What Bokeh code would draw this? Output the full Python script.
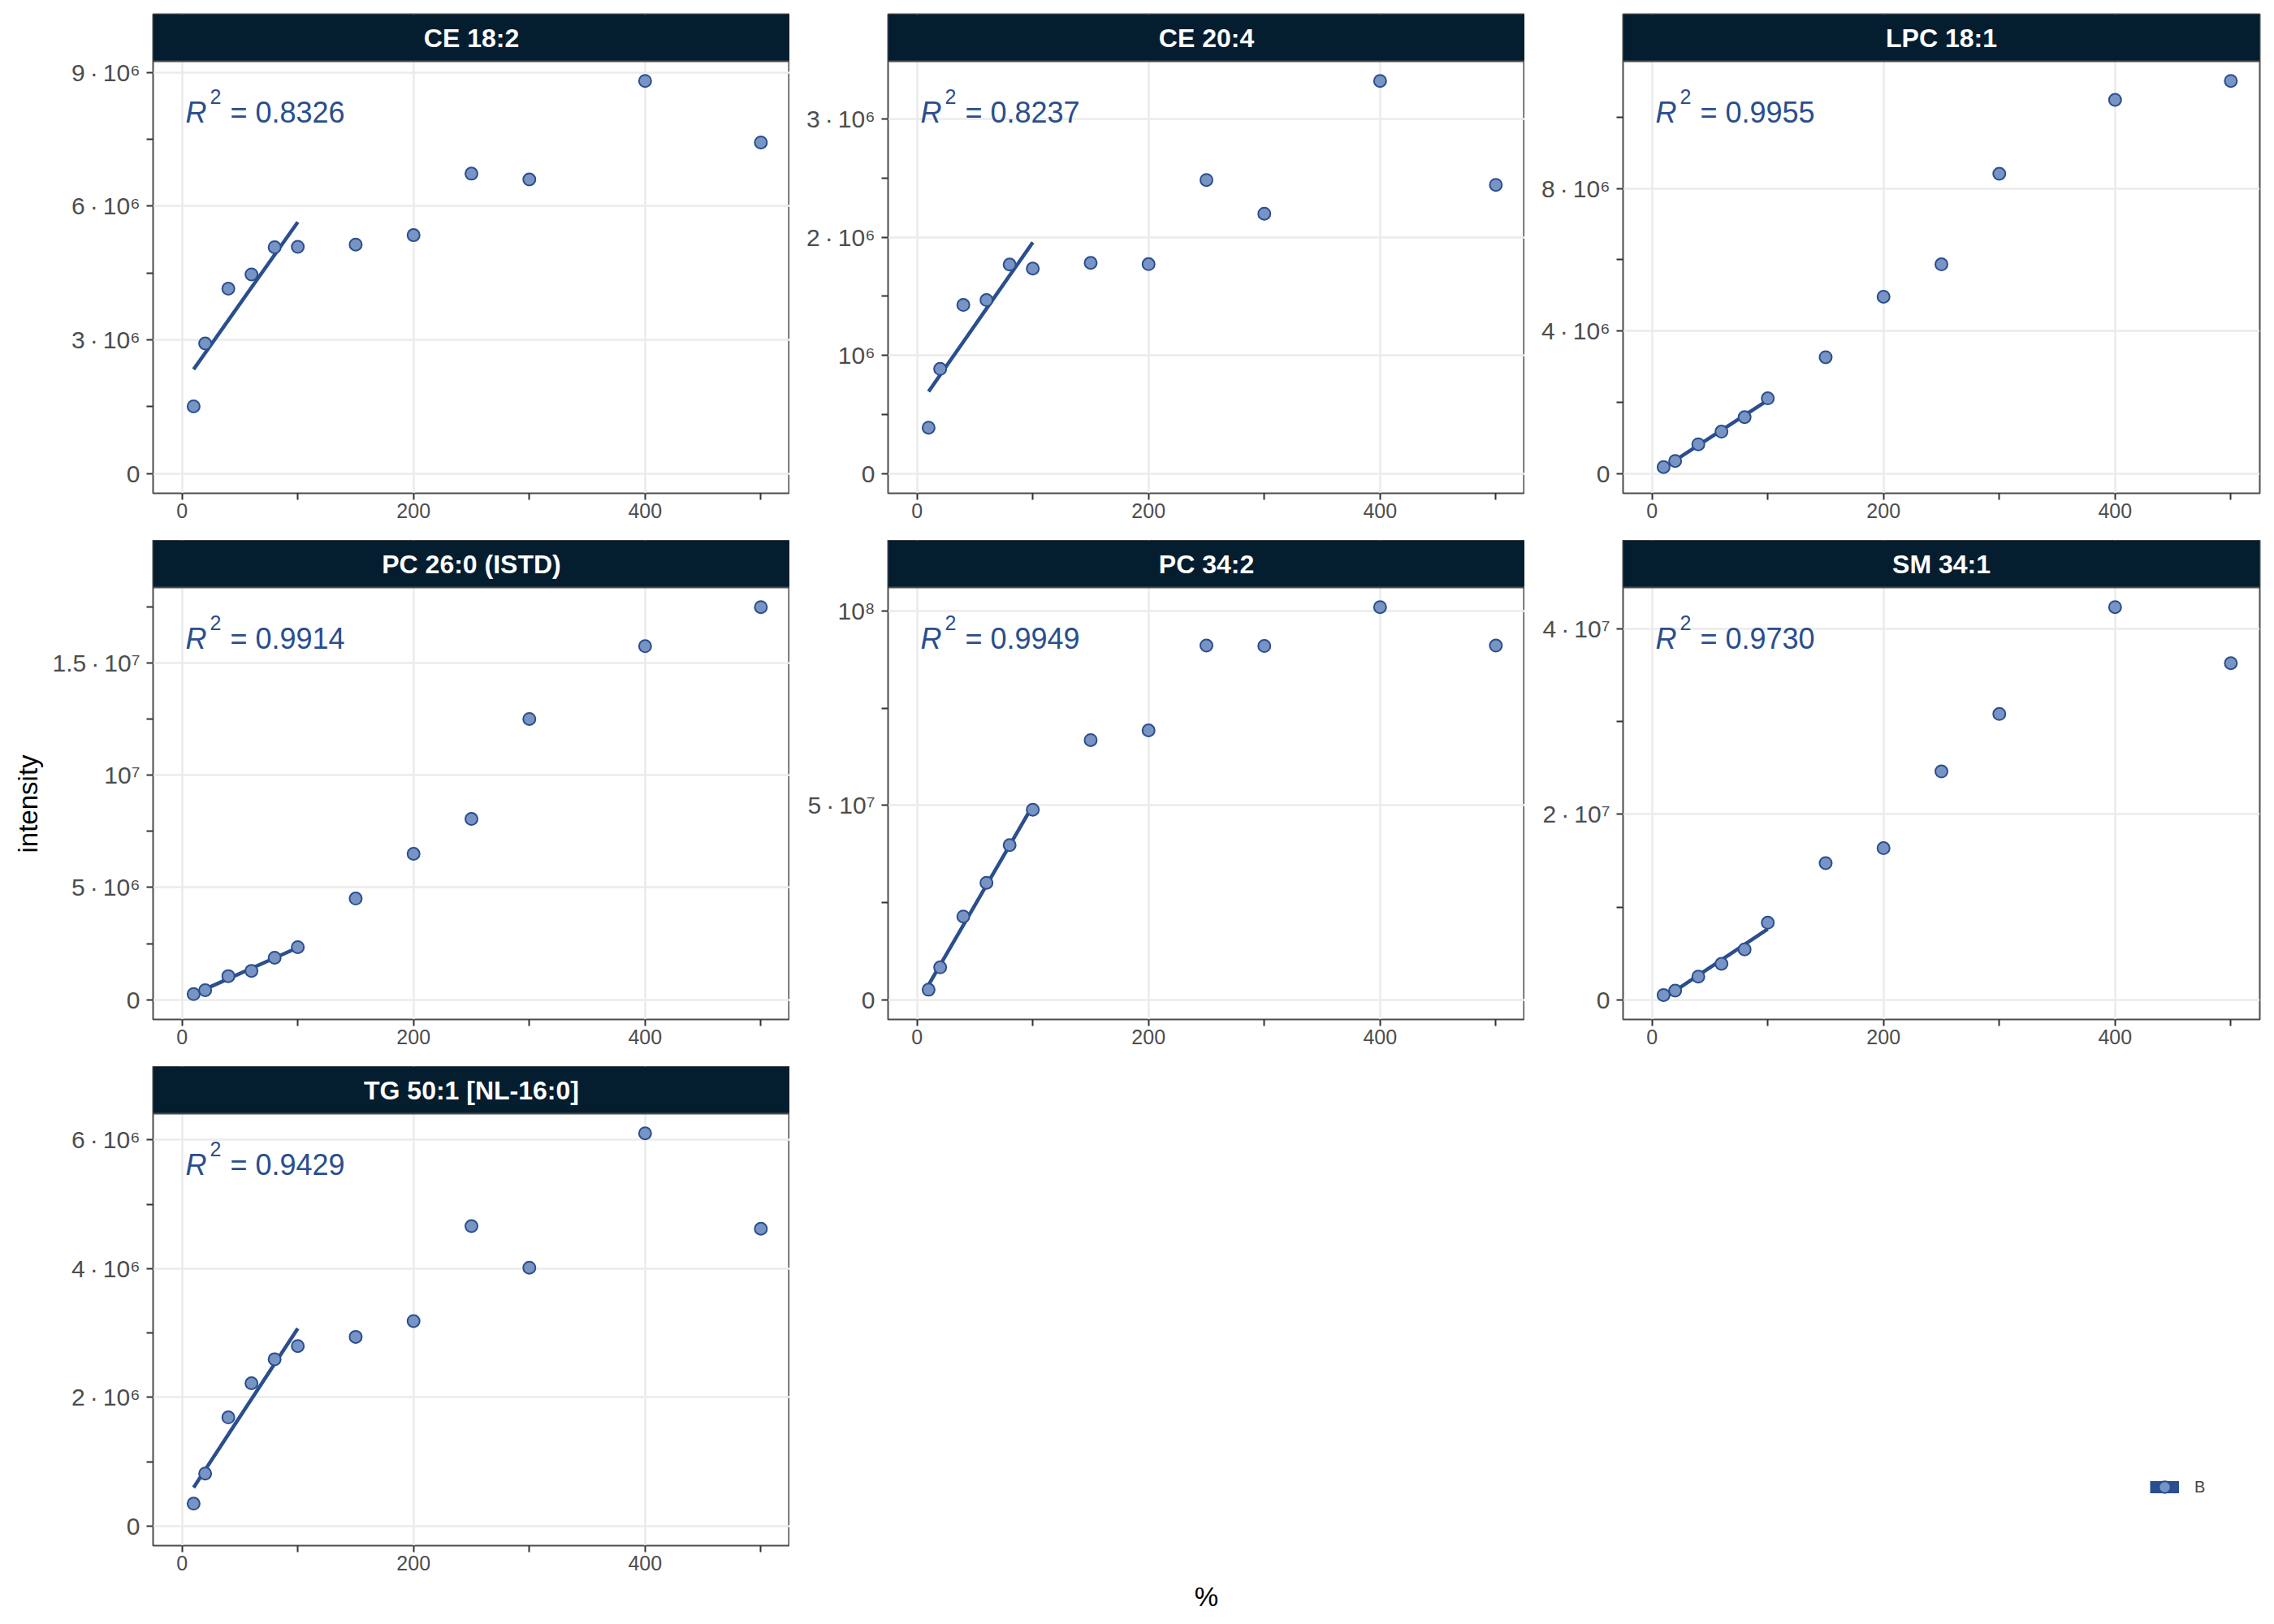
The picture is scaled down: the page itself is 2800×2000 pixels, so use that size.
import math
import numpy as np
from bokeh.plotting import figure
from bokeh.models import Range1d, FixedTicker, Label, Span, Legend, LegendItem, Title
from bokeh.layouts import column, row
from bokeh.embed import file_html
from bokeh.resources import INLINE

# ---------------- data ----------------
x_pct = [10, 20, 40, 60, 80, 100, 150, 200, 250, 300, 400, 500]

panel_names = ["CE 18:2", "CE 20:4", "LPC 18:1", "PC 26:0 (ISTD)", "PC 34:2", "SM 34:1", "TG 50:1 [NL-16:0]"]
r2_labels = ["0.8326", "0.8237", "0.9955", "0.9914", "0.9949", "0.9730", "0.9429"]

ce_18_2 = [1.51e6, 2.92e6, 4.15e6, 4.47e6, 5.08e6, 5.09e6, 5.14e6, 5.35e6, 6.73e6, 6.60e6, 8.81e6, 7.43e6]
ce_20_4 = [0.389e6, 0.886e6, 1.427e6, 1.468e6, 1.769e6, 1.735e6, 1.783e6, 1.772e6, 2.484e6, 2.199e6, 3.322e6, 2.443e6]
lpc_18_1 = [0.184e6, 0.356e6, 0.823e6, 1.18e6, 1.585e6, 2.113e6, 3.268e6, 4.963e6, 5.872e6, 8.415e6, 10.49e6, 11.02e6]
pc_26_0 = [0.254e6, 0.43e6, 1.055e6, 1.29e6, 1.875e6, 2.344e6, 4.51e6, 6.50e6, 8.05e6, 12.5e6, 15.74e6, 17.48e6]
pc_34_2 = [2.6e6, 8.35e6, 21.44e6, 30.1e6, 39.8e6, 48.9e6, 66.8e6, 69.3e6, 91.1e6, 91.0e6, 101.0e6, 91.1e6]
sm_34_1 = [0.52e6, 0.99e6, 2.51e6, 3.88e6, 5.44e6, 8.32e6, 14.75e6, 16.36e6, 24.63e6, 30.83e6, 42.36e6, 36.31e6]
tg_50_1 = [0.347e6, 0.816e6, 1.687e6, 2.218e6, 2.592e6, 2.796e6, 2.939e6, 3.184e6, 4.66e6, 4.014e6, 6.102e6, 4.619e6]
panel_values = [ce_18_2, ce_20_4, lpc_18_1, pc_26_0, pc_34_2, sm_34_1, tg_50_1]

fit_max_x = 100  # calibration range used for the linear fit

y_major = [
    [0, 3e6, 6e6, 9e6],
    [0, 1e6, 2e6, 3e6],
    [0, 4e6, 8e6],
    [0, 5e6, 1e7, 1.5e7],
    [0, 5e7, 1e8],
    [0, 2e7, 4e7],
    [0, 2e6, 4e6, 6e6],
]
TH = "\u2009\u00b7\u2009"
y_major_labels = [
    ["0", "3" + TH + "10\u2076", "6" + TH + "10\u2076", "9" + TH + "10\u2076"],
    ["0", "10\u2076", "2" + TH + "10\u2076", "3" + TH + "10\u2076"],
    ["0", "4" + TH + "10\u2076", "8" + TH + "10\u2076"],
    ["0", "5" + TH + "10\u2076", "10\u2077", "1.5" + TH + "10\u2077"],
    ["0", "5" + TH + "10\u2077", "10\u2078"],
    ["0", "2" + TH + "10\u2077", "4" + TH + "10\u2077"],
    ["0", "2" + TH + "10\u2076", "4" + TH + "10\u2076", "6" + TH + "10\u2076"],
]
y_minor = [
    [1.5e6, 4.5e6, 7.5e6],
    [0.5e6, 1.5e6, 2.5e6],
    [2e6, 6e6, 10e6],
    [2.5e6, 7.5e6, 1.25e7, 1.75e7],
    [2.5e7, 7.5e7],
    [1e7, 3e7],
    [1e6, 3e6, 5e6],
]
x_major = [0, 200, 400]
x_minor = [100, 300, 500]
legend_label = "B"
x_title = "%"
y_title = "intensity"

# ---------------- style ----------------
FONT = "Liberation Sans"
STRIP = "#041E30"
PT_FILL = "#7894C4"
DARK = "#2A4E8E"
GRID = "#EBEBEB"
BORDER = "#4D4D4D"

X0, X1 = -25, 525
FRAME_W = 784
PANEL_H = 532
STRIP_H = 58

# figure geometry per column / row (left, right) and (top, bottom) borders
col_borders = [(188, 0), (121, 0), (121, 12)]
row_borders = [(17, 58), (0, 58), (0, 90)]


def make_panel(i, col, rowi):
    vals = panel_values[i]
    ymax = max(vals)
    y0 = -0.05 * ymax
    y1 = 1.05 * ymax
    ytop = y1 + (y1 - y0) * STRIP_H / PANEL_H
    bl, br = col_borders[col]
    bt, bb = row_borders[rowi]
    p = figure(width=bl + FRAME_W + br, height=bt + PANEL_H + STRIP_H + bb,
               x_range=Range1d(X0, X1), y_range=Range1d(y0, ytop),
               output_backend="svg", toolbar_location=None,
               min_border_left=bl, min_border_right=br,
               min_border_top=bt, min_border_bottom=bb)
    p.background_fill_color = "white"
    p.border_fill_color = "white"
    p.outline_line_color = BORDER
    p.outline_line_width = 2

    # axes
    p.xaxis.ticker = FixedTicker(ticks=x_major, minor_ticks=x_minor)
    p.yaxis.ticker = FixedTicker(ticks=y_major[i], minor_ticks=y_minor[i])
    p.yaxis.major_label_overrides = {int(t): lab for t, lab in zip(y_major[i], y_major_labels[i])}
    for ax in (p.xaxis[0], p.yaxis[0]):
        ax.axis_line_color = None
        ax.major_tick_in = 0
        ax.minor_tick_in = 0
        ax.major_tick_out = 8
        ax.minor_tick_out = 8
        ax.major_tick_line_color = "#333333"
        ax.minor_tick_line_color = "#333333"
        ax.major_tick_line_width = 2
        ax.minor_tick_line_width = 2
        ax.major_label_text_font = FONT
        ax.major_label_text_color = "#4D4D4D"
    p.xaxis.major_label_text_font_size = "25px"
    p.xaxis.major_label_standoff = 4
    p.yaxis.major_label_text_font_size = "30px"
    p.yaxis.major_label_standoff = 8

    p.grid.grid_line_color = GRID
    p.grid.grid_line_width = 2.5

    # fit line on calibration range
    xs = np.array([x for x in x_pct if x <= fit_max_x], dtype=float)
    ys = np.array([v for x, v in zip(x_pct, vals) if x <= fit_max_x])
    slope, intercept = np.polyfit(xs, ys, 1)
    p.line(xs, slope * xs + intercept, line_color=DARK, line_width=4.5)

    # points
    p.scatter(x_pct, vals, marker="circle", size=15, fill_color=PT_FILL,
              line_color=DARK, line_width=2)

    # strip
    p.quad(left=[X0], right=[X1], bottom=[y1], top=[ytop],
           fill_color=STRIP, line_color=None)
    p.add_layout(Span(location=y1, dimension="width", line_color=BORDER, line_width=2))
    p.add_layout(Label(x=(X0 + X1) / 2, y=(y1 + ytop) / 2, text=panel_names[i],
                       text_align="center", text_baseline="middle",
                       text_font=FONT, text_font_style="bold",
                       text_font_size="32px", text_color="white"))

    # R^2 label
    xl = X0 + 40 * (X1 - X0) / FRAME_W
    yl = y1 - 63 * (y1 - y0) / PANEL_H
    common = dict(x=xl, y=yl, text_baseline="alphabetic", text_align="left",
                  text_font=FONT, text_color=DARK)
    p.add_layout(Label(text="R", text_font_style="italic", text_font_size="36px", **common))
    p.add_layout(Label(text="2", text_font_size="25px", x_offset=30, y_offset=20, **common))
    p.add_layout(Label(text="= " + r2_labels[i], text_font_size="36px", x_offset=55, **common))
    return p


figs = []
positions = [(0, 0), (1, 0), (2, 0), (0, 1), (1, 1), (2, 1), (0, 2)]
for i, (c, r) in enumerate(positions):
    figs.append(make_panel(i, c, r))

# y axis title on the middle-left panel
figs[3].add_layout(Title(text=y_title, align="left", offset=205, standoff=17,
                         text_font=FONT, text_font_size="33px",
                         text_font_style="normal", text_color="black"), "left")

# bottom row filler 1: x axis title
sp1 = figure(width=1026, height=680, x_range=Range1d(0, 1), y_range=Range1d(0, 1),
             output_backend="svg", toolbar_location=None, y_axis_location=None,
             min_border_left=0, min_border_right=0, min_border_top=0, min_border_bottom=90)
sp1.outline_line_color = None
sp1.xgrid.visible = False
sp1.ygrid.visible = False
sp1.xaxis.ticker = FixedTicker(ticks=[])
sp1.xaxis.axis_line_color = None
sp1.xaxis.major_tick_line_color = None
sp1.xaxis.minor_tick_line_color = None
sp1.xaxis.axis_label = x_title
sp1.xaxis.axis_label_text_font = FONT
sp1.xaxis.axis_label_text_font_size = "33px"
sp1.xaxis.axis_label_text_font_style = "normal"
sp1.xaxis.axis_label_text_color = "black"
sp1.xaxis.axis_label_standoff = 44

# bottom row filler 2: legend
sp2 = figure(width=796, height=680, x_range=Range1d(0, 1), y_range=Range1d(0, 1),
             output_backend="svg", toolbar_location=None,
             x_axis_location=None, y_axis_location=None,
             min_border_left=0, min_border_right=0, min_border_top=0, min_border_bottom=90)
sp2.outline_line_color = None
for g in sp2.grid:
    g.visible = False
nan = float("nan")
lr = sp2.line(x=[nan], y=[nan], line_color=DARK, line_width=15)
sr = sp2.scatter(x=[nan], y=[nan], marker="circle", size=15, fill_color=PT_FILL,
                 line_color=DARK, line_width=2)
leg = Legend(items=[LegendItem(label=legend_label, renderers=[lr, sr])],
             location=(649, 53), glyph_width=36, glyph_height=38,
             label_text_font=FONT, label_text_font_size="20px", label_standoff=19,
             padding=0, margin=0, spacing=0, border_line_color=None,
             background_fill_alpha=0)
sp2.add_layout(leg)

layout = column(row(figs[0], figs[1], figs[2]),
                row(figs[3], figs[4], figs[5]),
                row(figs[6], sp1, sp2))

open("out.html", "w").write(file_html(layout, INLINE))
